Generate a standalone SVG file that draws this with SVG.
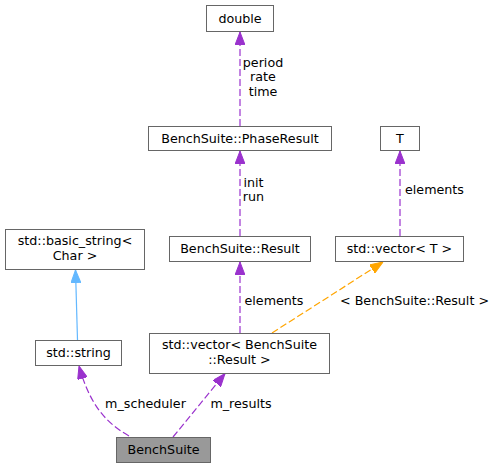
<svg xmlns="http://www.w3.org/2000/svg" width="496" height="469" viewBox="0 0 496 469">
<style>
  text { font-family: "DejaVu Sans", "Liberation Sans", sans-serif; font-size: 12.7px; fill: #000; text-anchor: middle; }
  .box { fill: #ffffff; stroke: #666666; stroke-width: 1; }
  .cur { fill: #999999; stroke: #666666; stroke-width: 1; }
  .edge { fill: none; stroke-width: 1.2; }
  .purple { stroke: #9a32cd; stroke-dasharray: 7,3; }
  .orange { stroke: #ffa500; stroke-dasharray: 7,3; }
  .blue { stroke: #63b8ff; }
</style>
<defs>
  <marker id="ap" viewBox="0 0 13 10" markerWidth="13" markerHeight="10" refX="13" refY="5" orient="auto" markerUnits="userSpaceOnUse">
    <path d="M0,0 L13,5 L0,10 z" fill="#9a32cd" stroke="#9a32cd" stroke-width="1"/>
  </marker>
  <marker id="ao" viewBox="0 0 13 10" markerWidth="13" markerHeight="10" refX="13" refY="5" orient="auto" markerUnits="userSpaceOnUse">
    <path d="M0,0 L13,5 L0,10 z" fill="#ffa500" stroke="#ffa500" stroke-width="1"/>
  </marker>
  <marker id="ab" viewBox="0 0 13 10" markerWidth="13" markerHeight="10" refX="13" refY="5" orient="auto" markerUnits="userSpaceOnUse">
    <path d="M0,0 L13,5 L0,10 z" fill="#63b8ff" stroke="#63b8ff" stroke-width="1"/>
  </marker>
</defs>

<g id="connectors">
  <g id="e-phase-double">
    <path class="edge purple" d="M240,126 L240,32" marker-end="url(#ap)"/>
    <text x="263" y="66.5">period</text>
    <text x="263" y="81">rate</text>
    <text x="263" y="95.5">time</text>
  </g>
  <g id="e-result-phase">
    <path class="edge purple" d="M240,236 L240,151" marker-end="url(#ap)"/>
    <text x="253.5" y="187">init</text>
    <text x="253.5" y="201">run</text>
  </g>
  <g id="e-vecT-T">
    <path class="edge purple" d="M400,236 L400,151" marker-end="url(#ap)"/>
    <text x="434.5" y="193.5">elements</text>
  </g>
  <g id="e-vecR-result">
    <path class="edge purple" d="M240,333 L240,262" marker-end="url(#ap)"/>
    <text x="274" y="304.5">elements</text>
  </g>
  <g id="e-vecR-vecT">
    <path class="edge orange" d="M272,333 L383,262" marker-end="url(#ao)"/>
    <text x="414.5" y="304.5">&lt; BenchSuite::Result &gt;</text>
  </g>
  <g id="e-string-basic">
    <path class="edge blue" d="M77.5,340 L75.5,270" marker-end="url(#ab)"/>
  </g>
  <g id="e-bench-string">
    <path class="edge purple" d="M129,436 C104,422 89,402 79,366" marker-end="url(#ap)"/>
    <text x="145.5" y="408">m_scheduler</text>
  </g>
  <g id="e-bench-vecR">
    <path class="edge purple" d="M173,437 L225,373.5" marker-end="url(#ap)"/>
    <text x="241" y="408">m_results</text>
  </g>
</g>

<g id="node-double">
  <rect class="box" x="206.5" y="5.5" width="67" height="26"/>
  <text x="240" y="22.5">double</text>
</g>
<g id="node-phaseresult">
  <rect class="box" x="148.5" y="126.5" width="183" height="24"/>
  <text x="240" y="142.5">BenchSuite::PhaseResult</text>
</g>
<g id="node-T">
  <rect class="box" x="380.5" y="126.5" width="39" height="24"/>
  <text x="400" y="142.5">T</text>
</g>
<g id="node-result">
  <rect class="box" x="169.5" y="236.5" width="141" height="25"/>
  <text x="240" y="253">BenchSuite::Result</text>
</g>
<g id="node-vectorT">
  <rect class="box" x="335.5" y="236.5" width="128" height="25"/>
  <text x="399.5" y="253">std::vector&lt; T &gt;</text>
</g>
<g id="node-basicstring">
  <rect class="box" x="5.5" y="229.5" width="139" height="40"/>
  <text x="75" y="245">std::basic_string&lt;</text>
  <text x="75" y="259.5">Char &gt;</text>
</g>
<g id="node-string">
  <rect class="box" x="35.5" y="340.5" width="86" height="25"/>
  <text x="78.5" y="357">std::string</text>
</g>
<g id="node-vectorresult">
  <rect class="box" x="149.5" y="333.5" width="180" height="40"/>
  <text x="239.5" y="349">std::vector&lt; BenchSuite</text>
  <text x="239.5" y="363.5">::Result &gt;</text>
</g>
<g id="node-benchsuite">
  <rect class="cur" x="116.5" y="437.5" width="94" height="25"/>
  <text x="163.5" y="454">BenchSuite</text>
</g>
</svg>
